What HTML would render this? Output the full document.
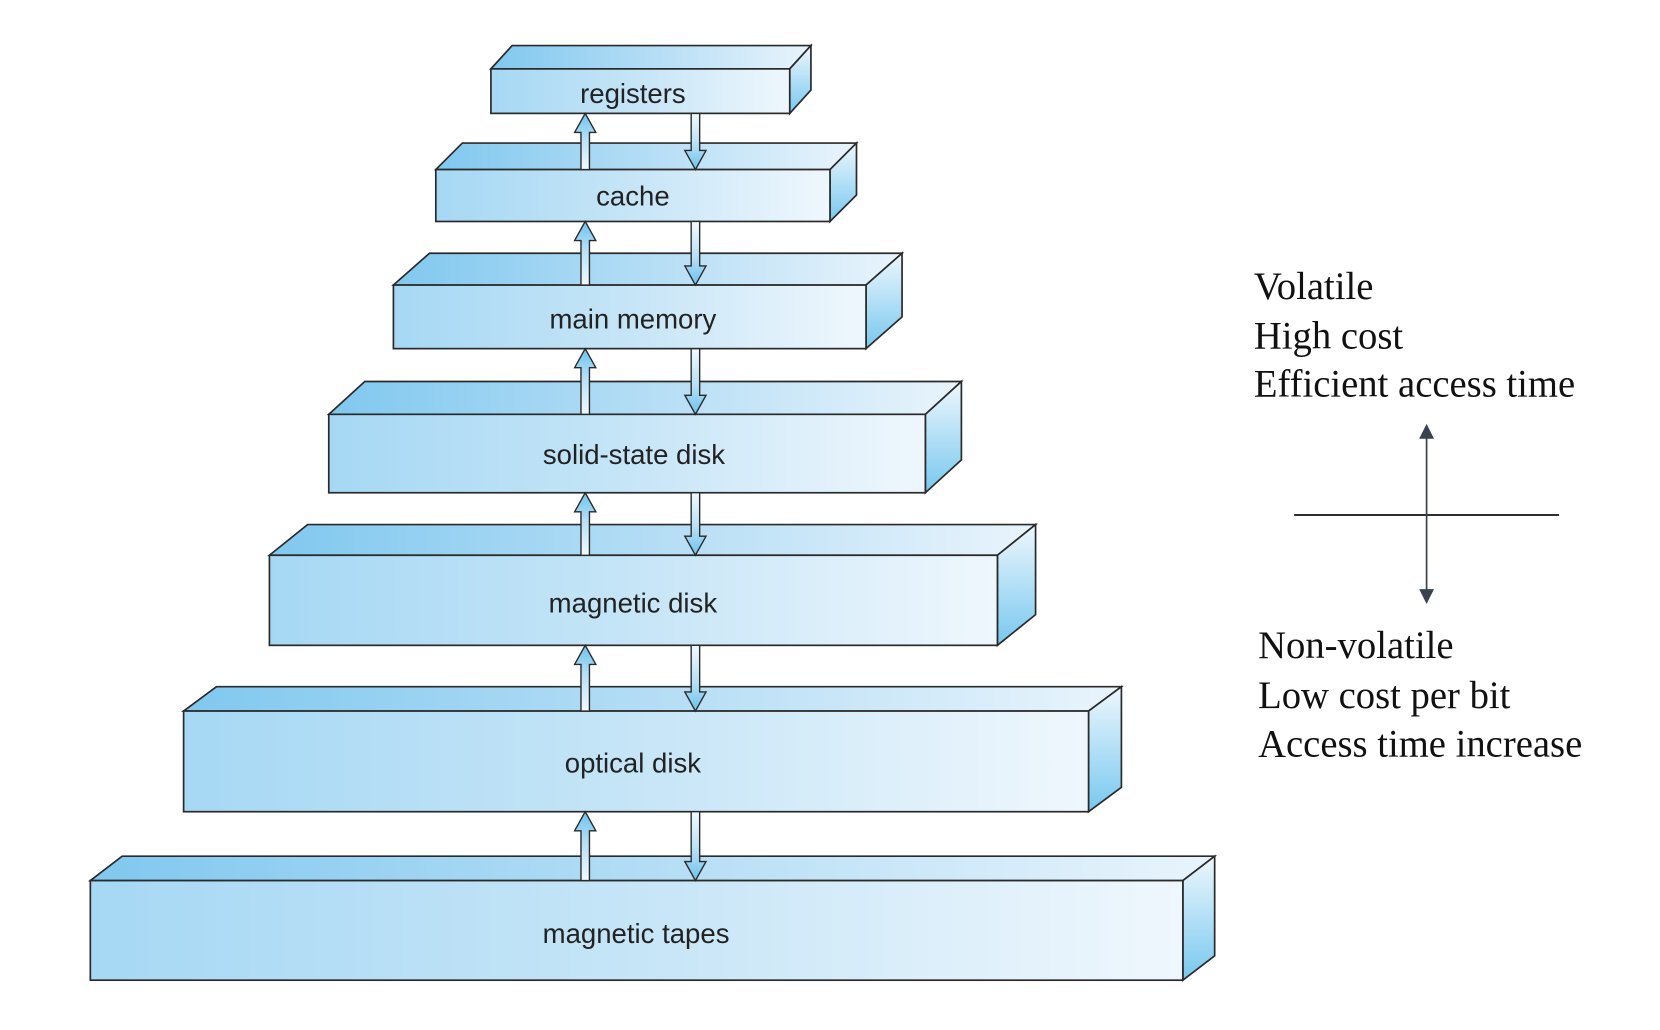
<!DOCTYPE html>
<html><head><meta charset="utf-8"><style>html,body{margin:0;padding:0;background:#fff;}svg{display:block}</style></head>
<body>
<svg width="1660" height="1030" viewBox="0 0 1566 972" xmlns="http://www.w3.org/2000/svg">
<defs>
<linearGradient id="fr" x1="0" y1="0" x2="1" y2="0"><stop offset="0" stop-color="#a6d8f4"/><stop offset="0.5" stop-color="#c6e5f7"/><stop offset="1" stop-color="#eff7fd"/></linearGradient>
<linearGradient id="tp" x1="0" y1="0" x2="1" y2="0"><stop offset="0" stop-color="#80c8ef"/><stop offset="0.5" stop-color="#b4ddf5"/><stop offset="1" stop-color="#e9f4fc"/></linearGradient>
<linearGradient id="sd" x1="0" y1="0" x2="0" y2="1"><stop offset="0" stop-color="#eef7fd"/><stop offset="1" stop-color="#78c8ef"/></linearGradient>
<linearGradient id="au" x1="0" y1="0" x2="0" y2="1"><stop offset="0" stop-color="#6cc2ee"/><stop offset="0.45" stop-color="#b8e0f6"/><stop offset="1" stop-color="#f2f9fe"/></linearGradient>
<linearGradient id="ad" x1="0" y1="0" x2="0" y2="1"><stop offset="0" stop-color="#f2f9fe"/><stop offset="0.55" stop-color="#b8e0f6"/><stop offset="1" stop-color="#6cc2ee"/></linearGradient>
</defs>
<g stroke="#2a2a2a" stroke-width="1.6" stroke-linejoin="miter">
<polygon fill="url(#tp)" points="463,65 483,43 765,43 745,65"/>
<polygon fill="url(#sd)" points="745,65 765,43 765,85 745,107"/>
<rect fill="url(#fr)" x="463" y="65" width="282" height="42"/>
<polygon fill="url(#tp)" points="411,160 436,135 808,135 783,160"/>
<polygon fill="url(#sd)" points="783,160 808,135 808,184 783,209"/>
<rect fill="url(#fr)" x="411" y="160" width="372" height="49"/>
<polygon fill="url(#tp)" points="371,269 405,239 851,239 817,269"/>
<polygon fill="url(#sd)" points="817,269 851,239 851,299 817,329"/>
<rect fill="url(#fr)" x="371" y="269" width="446" height="60"/>
<polygon fill="url(#tp)" points="310,391 344,360 907,360 873,391"/>
<polygon fill="url(#sd)" points="873,391 907,360 907,434 873,465"/>
<rect fill="url(#fr)" x="310" y="391" width="563" height="74"/>
<polygon fill="url(#tp)" points="254,524 290,495 977,495 941,524"/>
<polygon fill="url(#sd)" points="941,524 977,495 977,580 941,609"/>
<rect fill="url(#fr)" x="254" y="524" width="687" height="85"/>
<polygon fill="url(#tp)" points="173,671 204,648 1058,648 1027,671"/>
<polygon fill="url(#sd)" points="1027,671 1058,648 1058,743 1027,766"/>
<rect fill="url(#fr)" x="173" y="671" width="854" height="95"/>
<polygon fill="url(#tp)" points="85,831 115,808 1146,808 1116,831"/>
<polygon fill="url(#sd)" points="1116,831 1146,808 1146,902 1116,925"/>
<rect fill="url(#fr)" x="85" y="831" width="1031" height="94"/>
</g>
<g stroke="#2a2a2a" stroke-width="1.3">
<polygon fill="url(#au)" points="548,160 548,125 542,125 552,107 562,125 556,125 556,160"/>
<polygon fill="url(#ad)" points="652,107 652,142 646,142 656,160 666,142 660,142 660,107"/>
<polygon fill="url(#au)" points="548,269 548,227 542,227 552,209 562,227 556,227 556,269"/>
<polygon fill="url(#ad)" points="652,209 652,251 646,251 656,269 666,251 660,251 660,209"/>
<polygon fill="url(#au)" points="548,391 548,347 542,347 552,329 562,347 556,347 556,391"/>
<polygon fill="url(#ad)" points="652,329 652,373 646,373 656,391 666,373 660,373 660,329"/>
<polygon fill="url(#au)" points="548,524 548,483 542,483 552,465 562,483 556,483 556,524"/>
<polygon fill="url(#ad)" points="652,465 652,506 646,506 656,524 666,506 660,506 660,465"/>
<polygon fill="url(#au)" points="548,671 548,627 542,627 552,609 562,627 556,627 556,671"/>
<polygon fill="url(#ad)" points="652,609 652,653 646,653 656,671 666,653 660,653 660,609"/>
<polygon fill="url(#au)" points="548,831 548,784 542,784 552,766 562,784 556,784 556,831"/>
<polygon fill="url(#ad)" points="652,766 652,813 646,813 656,831 666,813 660,813 660,766"/>
</g>
<g font-family="'Liberation Sans', sans-serif" font-size="26" fill="#222" text-anchor="middle">
<text x="597" y="97">registers</text>
<text x="597" y="194">cache</text>
<text x="597" y="310">main memory</text>
<text x="598" y="438">solid-state disk</text>
<text x="597" y="578">magnetic disk</text>
<text x="597" y="729">optical disk</text>
<text x="600" y="890">magnetic tapes</text>
</g>
<g font-family="'Liberation Serif', serif" font-size="36.5" fill="#111">
<text x="1183" y="282">Volatile</text>
<text x="1183" y="329">High cost</text>
<text x="1183" y="374">Efficient access time</text>
<text x="1187" y="621">Non-volatile</text>
<text x="1187" y="668">Low cost per bit</text>
<text x="1187" y="714">Access time increase</text>
</g>
<line x1="1221" y1="486" x2="1471" y2="486" stroke="#111" stroke-width="1.6"/>
<line x1="1346" y1="410" x2="1346" y2="560" stroke="#3a4250" stroke-width="1.6"/>
<polygon fill="#3a4250" points="1346,400 1339,414 1353,414"/>
<polygon fill="#3a4250" points="1346,570 1339,556 1353,556"/>
</svg>
</body></html>
